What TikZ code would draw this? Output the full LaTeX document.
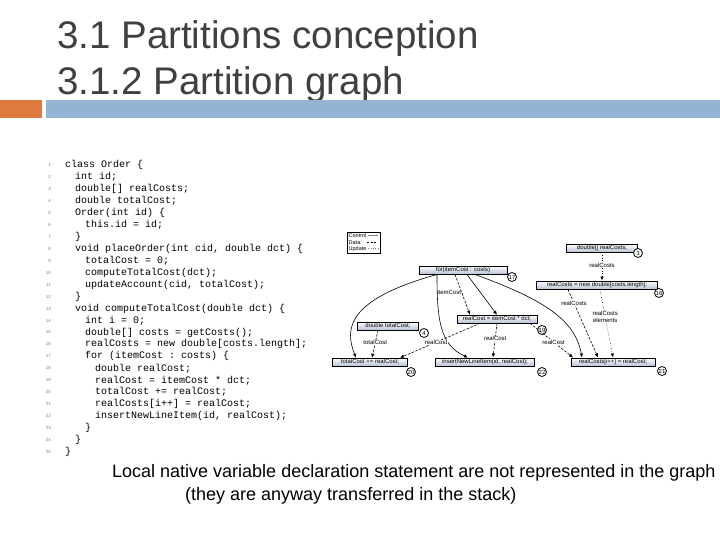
\documentclass[tikz,border=0pt]{standalone}
\usepackage{fontspec}
\setmainfont{Liberation Sans}
\setmonofont{Liberation Mono}
\usetikzlibrary{arrows.meta,shadows}
\definecolor{orng}{HTML}{DF7A3E}
\definecolor{blu}{HTML}{93B4D3}
\definecolor{ttl}{HTML}{404040}
\definecolor{boxc}{HTML}{B8C2D4}
\begin{document}
\begin{tikzpicture}[x=1pt,y=-1pt,
  code/.style={anchor=west,inner sep=0pt,font=\ttfamily\fontsize{10}{10}\selectfont},
  lno/.style={anchor=east,inner sep=0pt,font=\fontsize{4.5}{5}\selectfont,text=gray},
  sbox/.style={draw,thin,top color=white,bottom color=boxc,inner sep=1.5pt,font=\fontsize{6}{6.5}\selectfont,
     drop shadow={shadow xshift=0.8pt,shadow yshift=-0.8pt,fill=black,opacity=1}},
  num/.style={circle,draw,thick,fill=white,inner sep=0.3pt,minimum size=9pt,font=\fontsize{6}{6}\selectfont},
  lbl/.style={inner sep=0.5pt,font=\fontsize{6}{6.5}\selectfont,align=center},
  ctl/.style={-{Latex[length=4pt,width=3.5pt]},semithick},
  dat/.style={-{Latex[length=4pt,width=3.5pt]},semithick,dashed,dash pattern=on 2.5pt off 1.5pt},
  upd/.style={-{Latex[length=4pt,width=3.5pt]},semithick,dotted}]
\useasboundingbox (0,0) rectangle (720,540);
\fill[white] (0,0) rectangle (720,540);
% title
\node[anchor=base west,inner sep=0pt,text=ttl,font=\fontsize{38.5}{40}\selectfont] (t1) at (57,49) {3.1 Partitions conception};
\node[anchor=base west,inner sep=0pt,text=ttl,font=\fontsize{38.5}{40}\selectfont] (t2) at (57,95) {3.1.2 Partition graph};
\fill[orng] (0,100) rectangle (42,118);
\fill[blu] (46,100) rectangle (720,118);
% code
\newcommand{\cl}[3]{\node[lno] (n#1) at (51,{165+(#1-1)*11.96}) {#1};
  \node[code] (c#1) at ({65+#2*10},{165+(#1-1)*11.96}) {#3};}
\cl{1}{0}{class Order \{}
\cl{2}{1}{int id;}
\cl{3}{1}{double[] realCosts;}
\cl{4}{1}{double totalCost;}
\cl{5}{1}{Order(int id) \{}
\cl{6}{2}{this.id = id;}
\cl{7}{1}{\}}
\cl{8}{1}{void placeOrder(int cid, double dct) \{}
\cl{9}{2}{totalCost = 0;}
\cl{10}{2}{computeTotalCost(dct);}
\cl{11}{2}{updateAccount(cid, totalCost);}
\cl{12}{1}{\}}
\cl{13}{1}{void computeTotalCost(double dct) \{}
\cl{14}{2}{int i = 0;}
\cl{15}{2}{double[] costs = getCosts();}
\cl{16}{2}{realCosts = new double[costs.length];}
\cl{17}{2}{for (itemCost : costs) \{}
\cl{18}{3}{double realCost;}
\cl{19}{3}{realCost = itemCost * dct;}
\cl{20}{3}{totalCost += realCost;}
\cl{21}{3}{realCosts[i++] = realCost;}
\cl{22}{3}{insertNewLineItem(id, realCost);}
\cl{23}{2}{\}}
\cl{24}{1}{\}}
\cl{25}{0}{\}}
% legend
\node[draw,thin,anchor=north west,inner sep=1.5pt,font=\fontsize{5.5}{6.5}\selectfont,align=left] (leg) at (347,232)
 {Control \tikz[baseline=-2pt]\draw[thin,gray](0,0)--(10pt,0);\\
  Data \hspace{5pt}\tikz[baseline=-2pt]\draw[thin,dashed,dash pattern=on 2pt off 1.5pt](0,0)--(10pt,0);\\
  Update \tikz[baseline=-2pt]\draw[thin,dotted,gray](0,0)--(10pt,0);};
% boxes
\node[sbox,minimum width=71pt] (b3) at (602,248) {double[] realCosts;};
\node[sbox,minimum width=88pt] (b17) at (463,270) {for(itemCost : costs)};
\node[sbox,minimum width=121pt] (b16) at (597,285) {realCosts = new double[costs.length];};
\node[sbox,minimum width=61pt] (b4) at (388,326) {double totalCost;};
\node[sbox,minimum width=80pt] (b19) at (497,319) {realCost = itemCost * dct;};
\node[sbox,minimum width=75pt] (b20) at (370,362) {totalCost += realCost;};
\node[sbox,minimum width=99pt] (b22) at (485,362) {insertNewLineItem(id, realCost);};
\node[sbox,minimum width=84pt] (b21) at (613,362) {realCosts[i++] = realCost;};
\node[num] (k3) at (638,253) {3};
\node[num] (k17) at (512,277) {17};
\node[num] (k16) at (659,293) {16};
\node[num] (k4) at (424,333) {4};
\node[num] (k19) at (542,330) {19};
\node[num] (k20) at (411,372) {20};
\node[num] (k22) at (542,372) {22};
\node[num] (k21) at (662,371) {21};
% control edges
\draw[ctl] ([xshift=-26pt]b17.south) .. controls (345,300) and (345,330) .. ([xshift=-14pt]b20.north);
\draw[ctl] ([xshift=-26pt]b17.south) .. controls (437,320) and (440,345) .. ([xshift=-17pt]b22.north);
\draw[ctl] ([xshift=4pt]b17.south) -- ([xshift=0pt]b19.north);
\draw[ctl] ([xshift=12pt]b17.south) .. controls (545,300) and (575,320) .. ([xshift=-31pt]b21.north);
% data edges
\draw[dat] ([xshift=-8pt]b17.south) -- node[lbl,left,pos=0.45]{itemCost} ([xshift=-27pt]b19.north);
\draw[dat] ([xshift=-10pt]b4.south) -- node[lbl,fill=white,pos=0.45]{totalCost} ([xshift=2pt]b20.north);
\draw[dat] ([xshift=-17pt]b19.south) -- node[lbl,fill=white,pos=0.55]{realCost} ([xshift=30pt]b20.north);
\draw[dat] ([xshift=0pt]b19.south) -- node[lbl,fill=white,pos=0.45]{realCost} ([xshift=8pt]b22.north);
\draw[dat] ([xshift=33pt]b19.south) -- node[lbl,fill=white,pos=0.55]{realCost} ([xshift=-40pt]b21.north);
\draw[dat] ([xshift=-29pt]b16.south) -- node[lbl,fill=white,pos=0.2]{realCosts} ([xshift=-15pt]b21.north);
% update edges
\draw[upd] (b3.south) -- node[lbl,fill=white,pos=0.45]{realCosts} (b3.south|-b16.north);
\draw[upd] ([xshift=3pt]b16.south) -- node[lbl,fill=white,pos=0.4]{realCosts\\elements} ([xshift=0pt]b21.north);
% bottom text
\node[anchor=base west,inner sep=0pt,font=\fontsize{18}{18}\selectfont] (f1) at (112,477) {Local native variable declaration statement are not represented in the graph};
\node[anchor=base west,inner sep=0pt,font=\fontsize{18}{18}\selectfont] (f2) at (185,500) {(they are anyway transferred in the stack)};
\end{tikzpicture}
\end{document}
